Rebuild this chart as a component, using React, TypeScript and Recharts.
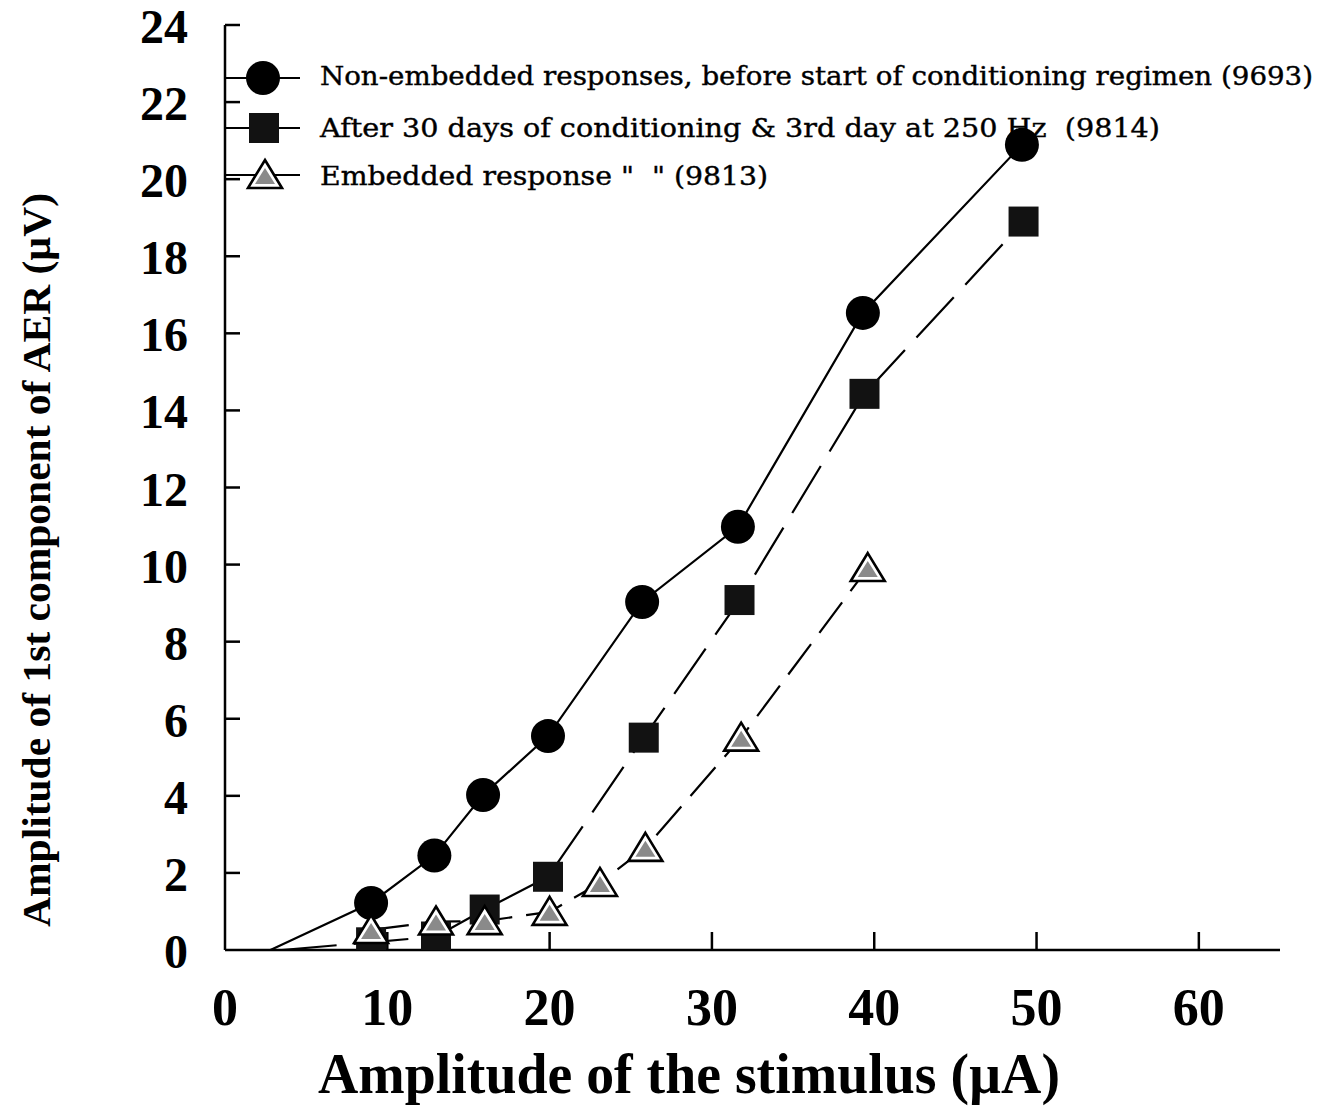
import React from 'react';
import { LineChart, Line, XAxis, YAxis, Label, Customized } from 'recharts';

// ---- data ----
const xTicks = [0, 10, 20, 30, 40, 50, 60];
const yTicks = [0, 2, 4, 6, 8, 10, 12, 14, 16, 18, 20, 22, 24];

// index 0 of circle & square series is the unmarked lead-in point of the line
const circleX = [2.8, 9.0, 12.9, 15.9, 19.9, 25.7, 31.6, 39.3, 49.1];
const circleY = [0, 1.22, 2.45, 4.02, 5.55, 9.03, 10.98, 16.53, 20.89];

const squareX = [3.5, 9.0, 13.0, 16.0, 19.9, 25.8, 31.7, 39.4, 49.2];
const squareY = [0, 0.2, 0.35, 1.05, 1.9, 5.51, 9.08, 14.43, 18.9];

const triangleX = [9.0, 13.0, 16.0, 20.0, 23.1, 25.9, 31.8, 39.6];
const triangleY = [0.52, 0.74, 0.75, 0.99, 1.74, 2.65, 5.51, 9.91];

const legendLabels = [
  'Non-embedded responses, before start of conditioning regimen (9693)',
  'After 30 days of conditioning & 3rd day at 250 Hz  (9814)',
  'Embedded response "  " (9813)',
];

const xTitle = 'Amplitude of the stimulus (\u00b5A)';
const yTitle = 'Amplitude of 1st component of AER (\u00b5V)';

const circleData = circleX.map((x, i) => ({ x, y: circleY[i] }));
const squareData = squareX.map((x, i) => ({ x, y: squareY[i] }));
const triangleData = triangleX.map((x, i) => ({ x, y: triangleY[i] }));

// chart placed at page y = 0 (body margin cancelled vertically)
const W = 1317;
const H = 1106;
const SERIF = '"Liberation Serif", "Times New Roman", serif';
const LEGEND_FONT = '"DejaVu Serif", serif';

// ---- marker shapes ----
const CircleMark = ({ cx, cy }: { cx: number; cy: number }) => (
  <circle cx={cx} cy={cy} r={17} fill="#000" />
);
const SquareMark = ({ cx, cy }: { cx: number; cy: number }) => (
  <rect x={cx - 15} y={cy - 15} width={30} height={30} fill="#121212" />
);
const TriangleMark = ({ cx, cy }: { cx: number; cy: number }) => {
  const outer = `${cx},${cy - 15} ${cx + 17},${cy + 13} ${cx - 17},${cy + 13}`;
  const inner = `${cx},${cy - 7} ${cx + 10},${cy + 9} ${cx - 10},${cy + 9}`;
  return (
    <g>
      <polygon points={outer} fill="#fff" stroke="#000" strokeWidth={2.6} strokeLinejoin="miter" />
      <polygon points={inner} fill="#8a8a8a" />
    </g>
  );
};

const circleDot = (p: any) =>
  p.index === 0 ? <g key={`c${p.index}`} /> : <CircleMark key={`c${p.index}`} cx={p.cx} cy={p.cy} />;
const squareDot = (p: any) =>
  p.index === 0 ? <g key={`s${p.index}`} /> : <SquareMark key={`s${p.index}`} cx={p.cx} cy={p.cy} />;
const triangleDot = (p: any) => <TriangleMark key={`t${p.index}`} cx={p.cx} cy={p.cy} />;

// ---- ticks ----
const YTick = (props: any) => {
  const { x, y, payload } = props;
  return (
    <g>
      {payload.value !== 0 && (
        <line x1={x} x2={x + 15} y1={y} y2={y} stroke="#000" strokeWidth={2.5} />
      )}
      <text x={x - 37} y={y + 18} textAnchor="end" fontFamily={SERIF} fontWeight="bold" fontSize={48} fill="#000">
        {payload.value}
      </text>
    </g>
  );
};

const XTick = (props: any) => {
  const { x, y, payload } = props;
  return (
    <g>
      {payload.value !== 0 && (
        <line x1={x} x2={x} y1={y} y2={y - 18} stroke="#000" strokeWidth={2.5} />
      )}
      <text x={x} y={y + 75} textAnchor="middle" fontFamily={SERIF} fontWeight="bold" fontSize={52} fill="#000">
        {payload.value}
      </text>
    </g>
  );
};

// ---- legend (drawn in chart svg) ----
const LegendBlock = () => {
  const rows = [
    { y: 78, base: 85, len: 993, kind: 'c' },
    { y: 128, base: 137, len: 840, kind: 's' },
    { y: 175, base: 185, len: 448, kind: 't' },
  ];
  return (
    <g>
      {rows.map((r, i) => (
        <g key={i}>
          <line x1={217} x2={292} y1={r.y} y2={r.y} stroke="#000" strokeWidth={2.2} />
          {r.kind === 'c' && <CircleMark cx={255} cy={r.y} />}
          {r.kind === 's' && <SquareMark cx={256} cy={r.y} />}
          {r.kind === 't' && <TriangleMark cx={257} cy={r.y} />}
          <text
            x={312}
            y={r.base}
            fontFamily={LEGEND_FONT}
            fontSize={26}
            fill="#000"
            stroke="#000"
            strokeWidth={0.4}
            textLength={r.len}
            lengthAdjust="spacingAndGlyphs"
            style={{ whiteSpace: 'pre' }}
            xmlSpace="preserve"
          >
            {legendLabels[i]}
          </text>
        </g>
      ))}
    </g>
  );
};

const XTitle = () => (
  <text
    x={310}
    y={1093}
    fontFamily={SERIF}
    fontWeight="bold"
    fontSize={57}
    fill="#000"
    textLength={742}
    lengthAdjust="spacingAndGlyphs"
  >
    {xTitle}
  </text>
);

const YTitle = () => (
  <text
    x={0}
    y={0}
    transform="translate(42,560) rotate(-90)"
    textAnchor="middle"
    fontFamily={SERIF}
    fontWeight="bold"
    fontSize={40}
    fill="#000"
    textLength={734}
    lengthAdjust="spacingAndGlyphs"
  >
    {yTitle}
  </text>
);

export default function App() {
  return (
    <div style={{ width: W, height: H, marginTop: -8, background: '#fff' }}>
      <LineChart width={W} height={H} margin={{ top: 25, right: 45, left: 97, bottom: 36 }}>
        <XAxis
          dataKey="x"
          type="number"
          domain={[0, 65]}
          ticks={xTicks}
          allowDataOverflow
          height={120}
          tickLine={false}
          tickSize={0}
          tickMargin={0}
          tick={<XTick />}
          axisLine={{ stroke: '#000', strokeWidth: 2.5 }}
        >
          <Label content={<XTitle />} />
        </XAxis>
        <YAxis
          type="number"
          domain={[0, 24]}
          ticks={yTicks}
          allowDataOverflow
          width={120}
          tickLine={false}
          tickSize={0}
          tickMargin={0}
          tick={<YTick />}
          axisLine={{ stroke: '#000', strokeWidth: 2.5 }}
        >
          <Label content={<YTitle />} />
        </YAxis>
        <Line
          data={circleData}
          dataKey="y"
          type="linear"
          stroke="#000"
          strokeWidth={2.2}
          dot={circleDot}
          activeDot={false}
          isAnimationActive={false}
          legendType="none"
        />
        <Line
          data={squareData}
          dataKey="y"
          type="linear"
          stroke="#000"
          strokeWidth={2.2}
          strokeDasharray="55 17"
          dot={squareDot}
          activeDot={false}
          isAnimationActive={false}
          legendType="none"
        />
        <Line
          data={triangleData}
          dataKey="y"
          type="linear"
          stroke="#000"
          strokeWidth={2.2}
          strokeDasharray="38 14"
          dot={triangleDot}
          activeDot={false}
          isAnimationActive={false}
          legendType="none"
        />
        <Customized component={LegendBlock} />
      </LineChart>
    </div>
  );
}
